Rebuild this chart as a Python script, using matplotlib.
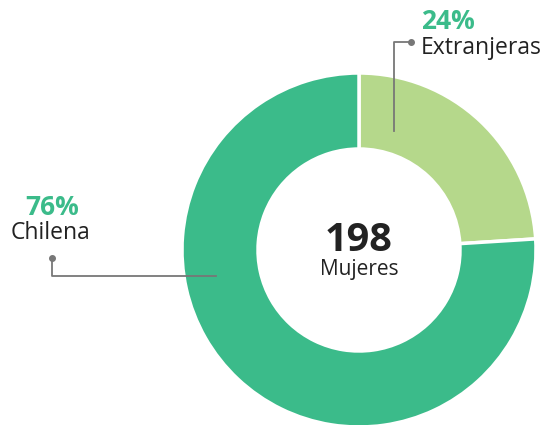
#!/usr/bin/env python3
import matplotlib.pyplot as plt

labels = ["Extranjeras", "Chilena"]
values = [24, 76]
colors = ["#b5d88b", "#3bbb8a"]
total = 198
total_label = "Mujeres"

W, H = 546, 425
fig = plt.figure(figsize=(W / 100, H / 100), dpi=100)
ax = fig.add_axes([0, 0, 1, 1])

cx, cy, r = 359, 250, 177
# y axis is flipped below, so start at -90 and go counterclockwise
# in data space -> top of the ring, clockwise on screen
ax.pie(values, colors=colors, startangle=-90, counterclock=True,
       radius=r, center=(cx, cy),
       wedgeprops=dict(width=76, edgecolor="white", linewidth=2.5))
ax.set_xlim(0, W)
ax.set_ylim(H, 0)
ax.set_aspect("equal")
ax.axis("off")

font = "Open Sans"
green = "#3bbb8a"
dark = "#222222"
line = "#777777"

# center total
ax.text(cx, 240, str(total), ha="center", va="center", fontsize=28.5,
        fontweight="bold", color=dark, family=font)
ax.text(cx, 270, total_label, ha="center", va="center", fontsize=15,
        color=dark, family=font)

# Extranjeras label
ax.text(421, 21, f"{values[0]}%", ha="left", va="center", fontsize=19,
        fontweight="bold", color=green, family=font)
ax.text(421, 48, labels[0], ha="left", va="center", fontsize=16.5,
        color=dark, family=font)
ax.plot([411, 394, 394], [42, 42, 131], color=line, lw=1.3)
ax.plot(411, 42, "o", color=line, ms=4)

# Chilena label
ax.text(52, 207, f"{values[1]}%", ha="center", va="center", fontsize=19,
        fontweight="bold", color=green, family=font)
ax.text(11, 233, labels[1], ha="left", va="center", fontsize=16.5,
        color=dark, family=font)
ax.plot([52, 52, 216], [258, 276, 276], color=line, lw=1.3)
ax.plot(52, 258, "o", color=line, ms=4)

fig.savefig("out.png", dpi=100)
